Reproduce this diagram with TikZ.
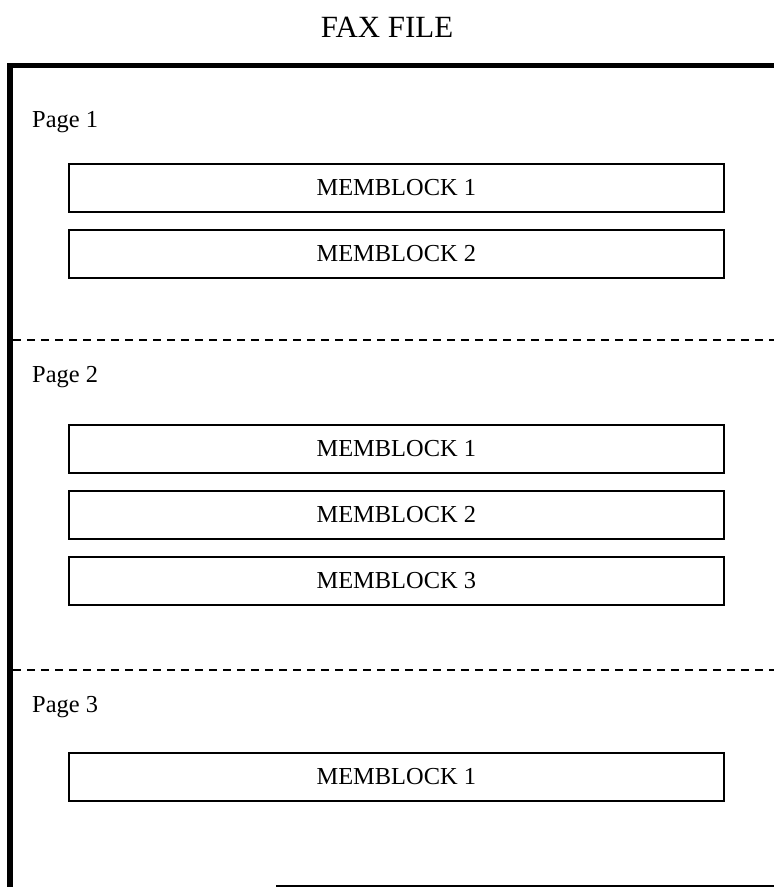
\documentclass[tikz,border=0pt]{standalone}
\usepackage{fontspec}
\setmainfont{Liberation Serif}
\usetikzlibrary{positioning}
\tikzset{
  memblock/.style={draw, rectangle, line width=1.6bp, minimum width=655bp,
    minimum height=48bp, inner sep=0pt, anchor=north west,
    font=\fontsize{24.5}{28}\selectfont},
  pagelabel/.style={anchor=base west, inner sep=0pt,
    font=\fontsize{24.5}{28}\selectfont},
  pagesep/.style={line width=1.6bp, dash pattern=on 8bp off 6bp},
}
\begin{document}
\begin{tikzpicture}[x=1bp, y=-1bp]
  \useasboundingbox (0,0) rectangle (774,887);

  \node[anchor=base, inner sep=0pt, font=\fontsize{31}{36}\selectfont]
    (title) at (387,37) {FAX FILE};

  % outer frame
  \draw[line width=5.5bp] (10,887) -- (10,65.5) -- (774,65.5);
  \draw[line width=2bp] (276,886) -- (774,886);

  % page 1
  \node[pagelabel] (page1) at (32,127) {Page 1};
  \node[memblock] (p1blk1) at (68,163) {MEMBLOCK 1};
  \node[memblock] (p1blk2) at (68,229) {MEMBLOCK 2};

  \draw[pagesep] (13,340) -- (774,340);

  % page 2
  \node[pagelabel] (page2) at (32,382) {Page 2};
  \node[memblock] (p2blk1) at (68,424) {MEMBLOCK 1};
  \node[memblock] (p2blk2) at (68,490) {MEMBLOCK 2};
  \node[memblock] (p2blk3) at (68,556) {MEMBLOCK 3};

  \draw[pagesep] (13,670) -- (774,670);

  % page 3
  \node[pagelabel] (page3) at (32,712) {Page 3};
  \node[memblock] (p3blk1) at (68,752) {MEMBLOCK 1};
\end{tikzpicture}
\end{document}
